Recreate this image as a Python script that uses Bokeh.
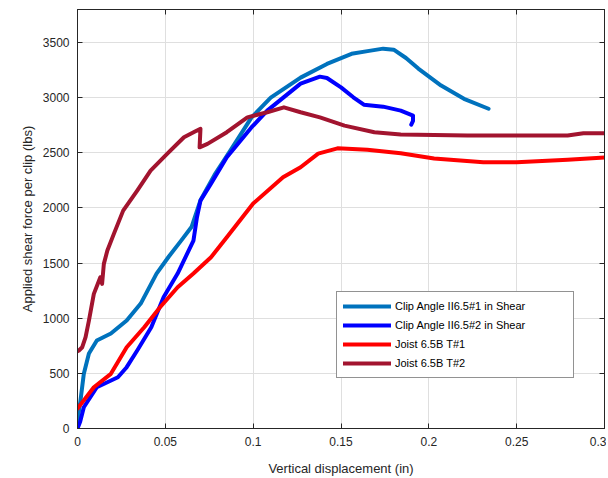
from bokeh.plotting import figure
from bokeh.models import Range1d, FixedTicker, LinearAxis, CustomJSTickFormatter, Legend, LegendItem
from bokeh.embed import file_html
from bokeh.resources import INLINE

# ---- data ----
x_clip1 = [0.0, 0.0005, 0.0017, 0.0036, 0.0065, 0.011, 0.019, 0.028, 0.036, 0.045, 0.052, 0.059, 0.065, 0.070,
           0.078, 0.087, 0.099, 0.110, 0.127, 0.142, 0.156, 0.166, 0.174, 0.180, 0.187, 0.194, 0.207, 0.220, 0.234]
y_clip1 = [0, 120, 254, 496, 680, 798, 861, 979, 1133, 1405, 1560, 1704, 1830, 2070,
           2300, 2520, 2820, 3000, 3182, 3306, 3398, 3425, 3445, 3436, 3360, 3264, 3110, 2990, 2900]

x_clip2 = [0.0, 0.0015, 0.0036, 0.011, 0.023, 0.028, 0.034, 0.042, 0.049, 0.057, 0.066, 0.068, 0.070, 0.076,
           0.085, 0.099, 0.108, 0.127, 0.138, 0.142, 0.150, 0.157, 0.163, 0.174, 0.184, 0.191, 0.191, 0.190]
y_clip2 = [0, 60, 193, 374, 465, 556, 707, 918, 1190, 1405, 1704, 1916, 2067, 2220,
           2460, 2730, 2883, 3128, 3191, 3179, 3094, 3004, 2937, 2919, 2883, 2838, 2790, 2756]

x_joist1 = [0.0, 0.0093, 0.019, 0.028, 0.038, 0.047, 0.057, 0.066, 0.076, 0.085, 0.100, 0.117, 0.127,
            0.137, 0.148, 0.165, 0.184, 0.203, 0.231, 0.250, 0.279, 0.300]
y_joist1 = [180, 374, 496, 737, 918, 1100, 1281, 1405, 1553, 1734, 2040, 2278, 2369,
            2493, 2541, 2529, 2496, 2448, 2414, 2414, 2438, 2457]

x_joist2 = [0.0, 0.0008, 0.0027, 0.0046, 0.0065, 0.0093, 0.013, 0.014, 0.015, 0.017, 0.0207, 0.026, 0.034,
            0.0416, 0.051, 0.0606, 0.068, 0.070, 0.0695, 0.074, 0.085, 0.0967, 0.108, 0.1175, 0.127,
            0.138, 0.152, 0.169, 0.184, 0.222, 0.279, 0.288, 0.300]
y_joist2 = [700, 707, 737, 828, 979, 1221, 1372, 1312, 1493, 1614, 1765, 1976, 2158,
            2339, 2490, 2641, 2702, 2717, 2550, 2581, 2687, 2822, 2868, 2913, 2868,
            2822, 2747, 2687, 2666, 2657, 2657, 2678, 2678]

x_ticks = [0, 0.05, 0.1, 0.15, 0.2, 0.25, 0.3]
y_ticks = [0, 500, 1000, 1500, 2000, 2500, 3000, 3500]
labels = ["Clip Angle II6.5#1 in Shear", "Clip Angle II6.5#2 in Shear", "Joist 6.5B T#1", "Joist 6.5B T#2"]
colors = ["#0072BD", "#0000FF", "#FF0000", "#A2142F"]

FONT = "Liberation Sans"
AX = "#262626"

p = figure(width=606, height=478, output_backend="svg", toolbar_location=None,
           x_range=Range1d(0, 0.3), y_range=Range1d(0, 3800),
           min_border_left=77, min_border_right=2, min_border_top=9, min_border_bottom=48,
           x_axis_label="Vertical displacement (in)",
           y_axis_label="Applied shear force per clip (lbs)")
p.background_fill_color = "white"
p.border_fill_color = "white"
p.outline_line_color = AX

xfmt = CustomJSTickFormatter(code="return tick.toFixed(2).replace(/0+$/,'').replace(/\\.$/,'');")
blank = CustomJSTickFormatter(code="return '';")

for ax in (p.xaxis[0], p.yaxis[0]):
    ax.major_tick_in = 5
    ax.major_tick_out = 0
    ax.minor_tick_in = 0
    ax.minor_tick_out = 0
    ax.axis_line_color = AX
    ax.major_tick_line_color = AX
    ax.major_label_text_font = FONT
    ax.major_label_text_font_size = "12px"
    ax.major_label_text_color = AX
    ax.axis_label_text_font = FONT
    ax.axis_label_text_font_size = "13px"
    ax.axis_label_text_font_style = "normal"
    ax.axis_label_text_color = AX

p.xaxis[0].ticker = FixedTicker(ticks=x_ticks)
p.xaxis[0].formatter = xfmt
p.xaxis[0].major_label_standoff = 8
p.xaxis[0].axis_label_standoff = 12
p.yaxis[0].ticker = FixedTicker(ticks=y_ticks)
p.yaxis[0].major_label_standoff = 8
p.yaxis[0].axis_label_standoff = 5

top = LinearAxis(ticker=FixedTicker(ticks=x_ticks), formatter=blank, major_tick_in=5, major_tick_out=0,
                 minor_tick_in=0, minor_tick_out=0, axis_line_color=AX, major_tick_line_color=AX,
                 major_label_text_font_size="0px", major_label_standoff=0)
right = LinearAxis(ticker=FixedTicker(ticks=y_ticks), formatter=blank, major_tick_in=5, major_tick_out=0,
                   minor_tick_in=0, minor_tick_out=0, axis_line_color=AX, major_tick_line_color=AX,
                   major_label_text_font_size="0px", major_label_standoff=0)
p.add_layout(top, "above")
p.add_layout(right, "right")

p.xgrid.ticker = FixedTicker(ticks=x_ticks)
p.ygrid.ticker = FixedTicker(ticks=y_ticks)
p.grid.grid_line_color = "#dfdfdf"
p.grid.grid_line_width = 1

series = [(x_clip1, y_clip1), (x_clip2, y_clip2), (x_joist1, y_joist1), (x_joist2, y_joist2)]
renderers = []
for (xs, ys), c in zip(series, colors):
    r = p.line(xs, ys, line_color=c, line_width=4, line_join="round", line_cap="round")
    renderers.append(r)
items = [LegendItem(label=l, renderers=[r]) for l, r in zip(labels, renderers)]
legend = Legend(items=items, location=(259, 50), orientation="vertical",
                label_text_font=FONT, label_text_font_size="11px", label_text_color="black",
                glyph_width=48, glyph_height=16, label_height=16, label_width=172,
                spacing=3, padding=6, margin=0,
                label_standoff=4, border_line_color=AX, border_line_width=1,
                background_fill_color="white", background_fill_alpha=1)
p.add_layout(legend, "center")

open("out.html", "w").write(file_html(p, INLINE))
